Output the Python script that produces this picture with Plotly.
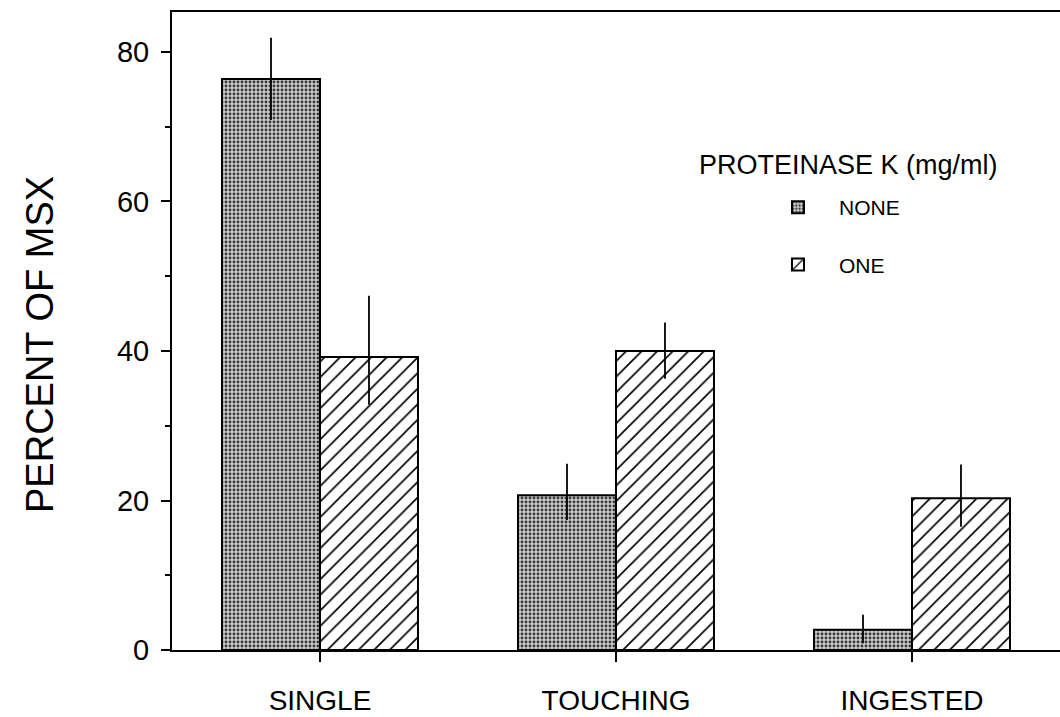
import plotly.graph_objects as go

categories = ["SINGLE", "TOUCHING", "INGESTED"]
none_vals = [76.4, 20.7, 2.7]
none_err_plus = [5.5, 4.2, 2.0]
none_err_minus = [5.5, 3.3, 1.8]
one_vals = [39.2, 40.0, 20.3]
one_err_plus = [8.2, 3.8, 4.5]
one_err_minus = [6.4, 3.7, 3.8]
y_ticks = [0, 20, 40, 60, 80]

FONT = "Liberation Sans, Arial, sans-serif"
W, H = 1060, 717
L, R, T, B = 172, 0, 12, 67
PW, PH = W - L - R, H - T - B

fig = go.Figure()
fig.add_trace(go.Bar(
    x=categories, y=none_vals, name="NONE", legendgroup="a",
    marker=dict(color="#bdbdbd", line=dict(color="black", width=2),
                pattern=dict(shape=".", fgcolor="#3a3a3a", bgcolor="#cccccc",
                             size=4, solidity=0.42, fgopacity=1, fillmode="overlay")),
    error_y=dict(type="data", symmetric=False, array=none_err_plus,
                 arrayminus=none_err_minus, color="black", thickness=1.8, width=0),
))
fig.add_trace(go.Bar(
    x=categories, y=one_vals, name="ONE", legendgroup="b",
    marker=dict(color="white", line=dict(color="black", width=2),
                pattern=dict(shape="/", fgcolor="black", bgcolor="white",
                             size=11, solidity=0.15, fgopacity=1, fillmode="overlay")),
    error_y=dict(type="data", symmetric=False, array=one_err_plus,
                 arrayminus=one_err_minus, color="black", thickness=1.8, width=0),
))

fig.update_layout(
    width=W, height=H,
    margin=dict(l=L, r=R, t=T, b=B, autoexpand=False),
    paper_bgcolor="white", plot_bgcolor="white",
    font=dict(family=FONT, color="black"),
    barmode="group", bargap=0.338, bargroupgap=0,
    showlegend=True,
    legend=dict(x=757 / W, xref="container", y=1 - 187 / H, yref="container",
                xanchor="left", yanchor="top", itemwidth=72,
                font=dict(size=21, family=FONT), bgcolor="rgba(0,0,0,0)",
                traceorder="grouped", tracegroupgap=27),
    annotations=[
        dict(text="PROTEINASE K (mg/ml)",
             x=(848 - L) / PW, xref="paper", xanchor="center",
             y=(H - B - 165) / PH, yref="paper", yanchor="middle",
             showarrow=False, font=dict(size=27, family=FONT)),
        dict(text="PERCENT OF MSX", textangle=-90,
             x=(40 - L) / PW, xref="paper", xanchor="center",
             y=(H - B - 345) / PH, yref="paper", yanchor="middle",
             showarrow=False, font=dict(size=38, family=FONT)),
    ],
)

fig.update_xaxes(
    range=[-0.5, 2.5], showline=True, linecolor="black", linewidth=2,
    mirror=True, ticks="outside", ticklen=10, tickwidth=1.5, tickcolor="black",
    tickfont=dict(size=28, family=FONT), ticklabelstandoff=14,
    showgrid=False, zeroline=False,
)
fig.update_yaxes(
    range=[0, 85.35], tickvals=y_ticks, showline=True, linecolor="black",
    linewidth=2, ticks="outside", ticklen=9, tickwidth=2, tickcolor="black",
    tickfont=dict(size=29, family=FONT), ticklabelstandoff=6,
    minor=dict(dtick=10, ticks="outside", ticklen=5, tickwidth=1.5, tickcolor="black"),
    showgrid=False, zeroline=False,
)

fig.write_html(
    "out.html",
    config={"displayModeBar": False},
    post_script="document.documentElement.style.margin='0';"
                "document.body.style.margin='0';document.body.style.padding='0';",
)
